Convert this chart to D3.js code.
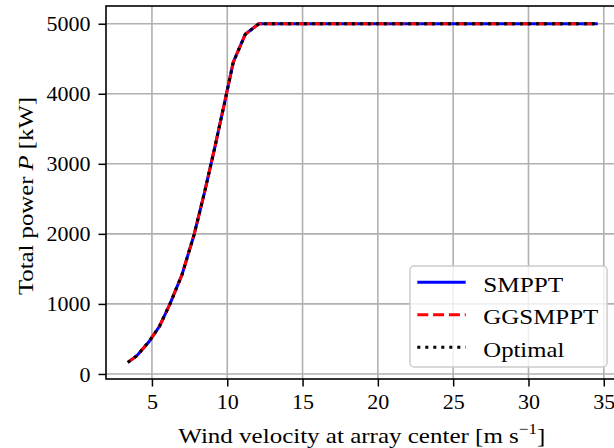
<!DOCTYPE html>
<html>
<head>
<meta charset="utf-8">
<script src="https://cdn.jsdelivr.net/npm/d3@7"></script>
<style>
  body { margin: 0; background: #fff; }
  text { font-family: "Liberation Serif", "DejaVu Serif", serif; fill: #000; }
</style>
</head>
<body>
<svg id="chart" width="614" height="448"></svg>
<script>
// wind velocity at array center [m/s]
const windSpeed = [3.4, 4.0, 4.8, 5.5, 6.2, 7.0, 7.8, 8.5, 9.2, 9.9, 10.4, 11.2, 12.1, 15, 20, 25, 30, 34.6]
// total power [kW]
const smppt   = [165, 260, 460, 680, 1000, 1420, 1990, 2600, 3260, 3950, 4450, 4850, 5000, 5000, 5000, 5000, 5000, 5000]
const ggsmppt = [165, 260, 460, 680, 1000, 1420, 1990, 2600, 3260, 3950, 4450, 4850, 5000, 5000, 5000, 5000, 5000, 5000]
const optimal = [165, 260, 460, 680, 1000, 1420, 1990, 2600, 3260, 3950, 4450, 4850, 5000, 5000, 5000, 5000, 5000, 5000]
const xTicks = [5, 10, 15, 20, 25, 30, 35]
const yTicks = [0, 1000, 2000, 3000, 4000, 5000]
const seriesNames = ["SMPPT", "GGSMPPT", "Optimal"]

const svg = d3.select("#chart")
const mLeft = 106, mRight = 619.6, mTop = 6, mBottom = 379

const x = d3.scaleLinear().domain([1.95, 36.05]).range([mLeft, mRight])
const y = d3.scaleLinear().domain([-72, 5253]).range([mBottom, mTop])

// grid
svg.append("g").selectAll("line").data(xTicks).join("line")
  .attr("x1", d => x(d)).attr("x2", d => x(d))
  .attr("y1", mTop).attr("y2", mBottom)
  .attr("stroke", "#b0b0b0").attr("stroke-width", 1.6)
svg.append("g").selectAll("line").data(yTicks).join("line")
  .attr("x1", mLeft).attr("x2", mRight)
  .attr("y1", d => y(d)).attr("y2", d => y(d))
  .attr("stroke", "#b0b0b0").attr("stroke-width", 1.6)

// axes
const xAxis = svg.append("g").attr("transform", `translate(0,${mBottom})`)
  .call(d3.axisBottom(x).tickValues(xTicks).tickSize(7.5).tickPadding(6).tickFormat(d3.format("d")))
const yAxis = svg.append("g").attr("transform", `translate(${mLeft},0)`)
  .call(d3.axisLeft(y).tickValues(yTicks).tickSize(7.5).tickPadding(8).tickFormat(d3.format("d")))
for (const ax of [xAxis, yAxis]) {
  ax.select(".domain").remove()
  ax.selectAll(".tick line").attr("stroke", "#000").attr("stroke-width", 1.5)
  ax.selectAll(".tick text").attr("font-size", "22px").attr("font-family", "Liberation Serif")
}
xAxis.selectAll(".tick text").attr("dy", "0.75em")

// spines
svg.append("rect")
  .attr("x", mLeft).attr("y", mTop)
  .attr("width", mRight - mLeft).attr("height", mBottom - mTop)
  .attr("fill", "none").attr("stroke", "#000").attr("stroke-width", 1.6)

// lines
const styles = [
  { data: smppt, color: "#0000ff", dash: null },
  { data: ggsmppt, color: "#ff0000", dash: "11,4.8" },
  { data: optimal, color: "#000000", dash: "3,5" }
]
const line = d3.line().x(d => x(d[0])).y(d => y(d[1]))
styles.forEach(s => {
  svg.append("path")
    .datum(windSpeed.map((w, i) => [w, s.data[i]]))
    .attr("d", line)
    .attr("fill", "none")
    .attr("stroke", s.color)
    .attr("stroke-width", 3)
    .attr("stroke-dasharray", s.dash)
})

// axis labels
const xl = svg.append("text")
  .attr("x", (mLeft + mRight) / 2 - 1).attr("y", 443)
  .attr("text-anchor", "middle").attr("font-size", "22px")
  .attr("textLength", 367).attr("lengthAdjust", "spacingAndGlyphs")
xl.append("tspan").text("Wind velocity at array center [m s")
xl.append("tspan").attr("font-size", "15px").attr("dy", -9).text("−1")
xl.append("tspan").attr("dy", 9).text("]")

const yl = svg.append("text")
  .attr("transform", "translate(33,196) rotate(-90)")
  .attr("text-anchor", "middle").attr("font-size", "22px")
  .attr("textLength", 198).attr("lengthAdjust", "spacingAndGlyphs")
yl.append("tspan").text("Total power ")
yl.append("tspan").attr("font-style", "italic").text("P")
yl.append("tspan").text(" [kW]")

// legend
const legend = svg.append("g")
legend.append("rect")
  .attr("x", 410).attr("y", 266).attr("width", 197).attr("height", 101).attr("rx", 4)
  .attr("fill", "#fff").attr("fill-opacity", 0.8)
  .attr("stroke", "#cccccc").attr("stroke-width", 1.5)
const textWidths = [80, 115, 81]
styles.forEach((s, i) => {
  const ly = 282.3 + i * 32.5
  legend.append("line")
    .attr("x1", 417.3).attr("x2", 465.7).attr("y1", ly).attr("y2", ly)
    .attr("stroke", s.color).attr("stroke-width", 3)
    .attr("stroke-dasharray", s.dash)
  legend.append("text")
    .attr("x", 483.3).attr("y", ly + 9.5)
    .attr("font-size", "22px")
    .attr("textLength", textWidths[i]).attr("lengthAdjust", "spacingAndGlyphs")
    .text(seriesNames[i])
})
</script>
</body>
</html>
